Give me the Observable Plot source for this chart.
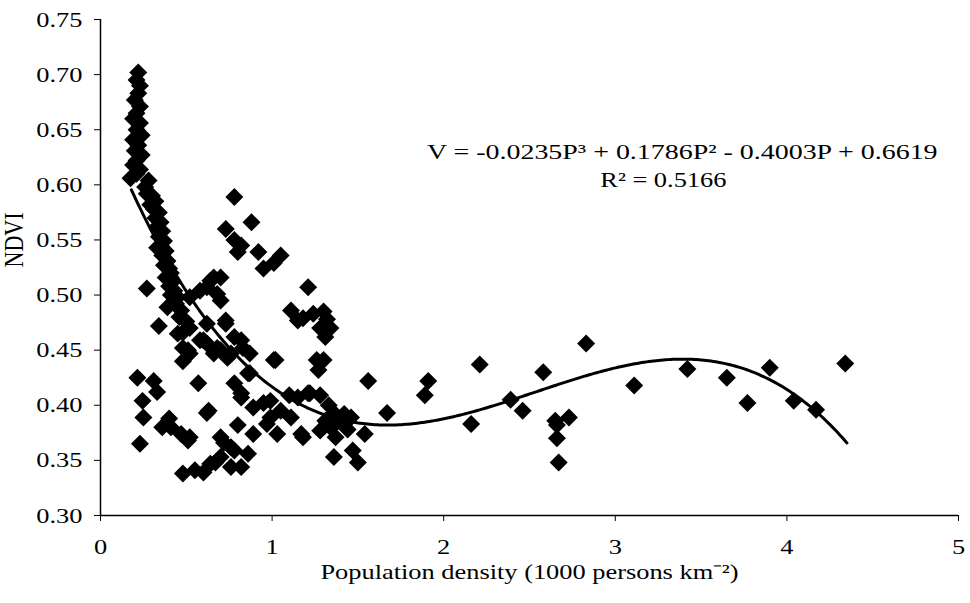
<!DOCTYPE html>
<html><head><meta charset="utf-8">
<script src="https://cdn.jsdelivr.net/npm/d3@7"></script>
<script src="https://cdn.jsdelivr.net/npm/@observablehq/plot@0.6"></script>
<style>
body{margin:0;background:#fff}
svg{font-family:"Liberation Serif","Times New Roman",serif}
</style>
</head><body><div id="chart"></div>
<script>
// Population density (1000 persons km-2)
const popDensity = [
  0.22,0.21,0.23,0.22,0.20,0.23,0.21,0.19,0.23,0.21,0.24,0.19,0.22,0.20,0.24,0.21,0.19,0.23,0.21,0.175,0.28,0.26,
  0.27,0.30,0.32,0.29,0.31,0.34,0.32,0.35,0.33,0.36,0.34,0.37,0.35,0.33,0.38,0.36,0.39,0.37,0.40,0.41,0.38,0.42,0.40,0.43,0.41,0.45,0.44,0.39,0.47,0.46,0.50,0.52,0.48,0.27,0.34,
  0.52,0.58,0.64,0.70,0.66,0.62,0.68,0.70,0.62,0.73,0.73,0.48,0.51,0.52,0.48,0.58,0.60,0.66,0.62,0.68,0.70,0.74,0.76,0.78,0.82,0.83,0.87,1.02,0.45,
  0.78,0.88,0.73,0.78,0.80,0.82,0.92,1.05,1.01,0.95,1.21,1.11,1.15,1.24,1.28,1.30,1.32,1.34,1.31,1.18,
  0.215,0.31,0.33,0.245,0.25,0.23,0.36,0.40,0.41,0.47,0.52,0.51,0.57,0.62,0.63,0.48,0.55,0.60,0.64,0.67,0.72,0.70,0.76,0.78,0.76,0.70,0.82,0.86,0.80,0.78,0.82,0.82,0.86,0.87,0.89,0.95,0.99,0.99,1.01,1.03,0.89,0.97,1.05,1.11,1.15,1.22,1.17,1.10,
  1.26,1.30,1.27,1.21,1.28,1.36,1.40,1.46,1.34,1.28,1.37,1.54,1.67,1.18,1.36,1.47,1.50,1.56,1.33,1.42,1.38,1.44,1.31,
  1.91,1.89,2.16,2.21,2.39,2.46,2.58,2.65,2.66,2.66,2.67,2.73,2.83,3.11,3.42,3.65,3.77,3.90,4.04,4.17,4.34
];
// NDVI
const ndvi = [
  0.702,0.695,0.690,0.683,0.677,0.671,0.665,0.660,0.656,0.650,0.645,0.641,0.636,0.631,0.627,0.622,0.618,0.614,0.610,0.606,0.604,0.598,
  0.592,0.590,0.585,0.582,0.578,0.575,0.570,0.566,0.562,0.558,0.553,0.549,0.545,0.543,0.540,0.536,0.531,0.527,0.524,0.520,0.516,0.512,0.508,0.504,0.500,0.498,0.492,0.489,0.486,0.480,0.476,0.470,0.466,0.506,0.472,
  0.498,0.504,0.513,0.516,0.516,0.507,0.501,0.495,0.474,0.477,0.474,0.452,0.450,0.447,0.440,0.459,0.459,0.447,0.456,0.452,0.450,0.443,0.447,0.462,0.459,0.452,0.447,0.441,0.465,
  0.589,0.566,0.560,0.550,0.539,0.545,0.539,0.536,0.529,0.524,0.507,0.486,0.477,0.483,0.470,0.485,0.478,0.470,0.462,0.479,
  0.425,0.422,0.412,0.404,0.389,0.365,0.380,0.388,0.380,0.374,0.371,0.368,0.420,0.393,0.395,0.338,0.341,0.339,0.347,0.348,0.366,0.371,0.344,0.359,0.362,0.353,0.344,0.356,0.382,0.420,0.411,0.407,0.429,0.429,0.398,0.402,0.404,0.389,0.441,0.374,0.374,0.383,0.395,0.389,0.407,0.411,0.374,0.409,
  0.441,0.441,0.432,0.411,0.409,0.393,0.386,0.389,0.380,0.377,0.371,0.374,0.393,0.371,0.353,0.359,0.348,0.422,0.400,0.392,0.385,0.378,0.386,
  0.422,0.409,0.383,0.437,0.405,0.395,0.430,0.386,0.382,0.370,0.348,0.389,0.456,0.418,0.433,0.425,0.402,0.434,0.404,0.396,0.438
];
const xTicks = [0, 1, 2, 3, 4, 5];
const yTicks = [0.30, 0.35, 0.40, 0.45, 0.50, 0.55, 0.60, 0.65, 0.70, 0.75];
// Cubic trendline shown on the chart: V = a P^3 + b P^2 + c P + d
const trendCoef = [-0.0235, 0.1786, -0.4003, 0.6619];
const trendRange = [0.18, 4.35];
const equationText = "V = -0.0235P³ + 0.1786P² - 0.4003P + 0.6619";
const r2Text = "R² = 0.5166";
const xLabel = "Population density (1000 persons km⁻²)";
const yLabel = "NDVI";

const points = popDensity.map((x, i) => ({x, y: ndvi[i]}));
const [a, b, c, d] = trendCoef;
const trend = d3.range(0, 301).map(i => {
  const p = trendRange[0] + (trendRange[1] - trendRange[0]) * i / 300;
  return {x: p, y: ((a * p + b) * p + c) * p + d};
});

const chart = Plot.plot({
  width: 970, height: 603,
  marginLeft: 100, marginRight: 12, marginTop: 19, marginBottom: 88,
  style: {fontFamily: "Liberation Serif, Times New Roman, serif", fontSize: "22px", background: "white", color: "black", overflow: "visible"},
  x: {domain: [0, 5], ticks: xTicks, tickFormat: d => String(d), tickSize: 6, tickPadding: 17, label: null},
  y: {domain: [0.30, 0.75], ticks: yTicks, tickFormat: d3.format(".2f"), tickSize: 6, tickPadding: 12, label: null},
  marks: [
    Plot.ruleX([0], {y1: 0.30, y2: 0.75, stroke: "black", strokeWidth: 1.5}),
    Plot.ruleY([0.30], {x1: 0, x2: 5, stroke: "black", strokeWidth: 1.5}),
    Plot.dot(points, {x: "x", y: "y", symbol: "diamond2", r: 8.1, fill: "black", stroke: "none"}),
    Plot.line(trend, {x: "x", y: "y", stroke: "black", strokeWidth: 3}),
    Plot.text([equationText], {x: 3.39, y: 0.630, text: d => d, textAnchor: "middle", fontSize: 22, fill: "black"}),
    Plot.text([r2Text], {x: 3.28, y: 0.604, text: d => d, textAnchor: "middle", fontSize: 22, fill: "black"}),
    Plot.text([xLabel], {frameAnchor: "bottom", dy: 63, text: d => d, fontSize: 22, fill: "black"}),
    Plot.text([yLabel], {frameAnchor: "left", dx: -86, rotate: -90, text: d => d, fontSize: 22, fill: "black"})
  ]
});

// The reference typography is horizontally stretched; mimic it.
chart.querySelectorAll("text").forEach(t => {
  const s = t.textContent === equationText ? 1.27 : 1.2;
  const old = t.getAttribute("transform") || "";
  const x = parseFloat(t.getAttribute("x")) || 0;
  const y = parseFloat(t.getAttribute("y")) || 0;
  if (old.includes("rotate")) {
    t.setAttribute("transform", old + ` scale(1,${s})`);
  } else {
    t.setAttribute("transform", old + ` translate(${x},${y}) scale(${s},1) translate(${-x},${-y})`);
  }
});
document.getElementById("chart").appendChild(chart);
</script>
</body></html>
